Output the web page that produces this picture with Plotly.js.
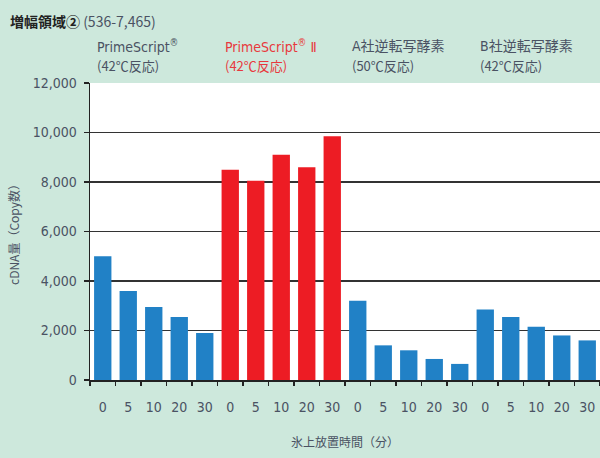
<!DOCTYPE html>
<html><head><meta charset="utf-8">
<script src="https://cdn.plot.ly/plotly-3.0.1.min.js"></script>
<style>html,body{margin:0;padding:0;background:#cde8dc;}#c{width:600px;height:458px;}</style>
</head><body><div id="c"></div>
<script>
const timeLabels = ["0","5","10","20","30","0","5","10","20","30","0","5","10","20","30","0","5","10","20","30"];
const primeScript = [5000, 3600, 2950, 2550, 1900];
const primeScript2 = [8500, 8050, 9100, 8600, 9850];
const companyA = [3200, 1400, 1200, 850, 650];
const companyB = [2850, 2550, 2150, 1800, 1600];
const groupTitles = ["PrimeScript<sup>®</sup>", "PrimeScript<sup>®</sup> Ⅱ", "A社逆転写酵素", "B社逆転写酵素"];
const groupSubs = ["(42℃反応)", "(42℃反応)", "(50℃反応)", "(42℃反応)"];
const groupColors = ["#2181c6", "#ed1c24", "#2181c6", "#2181c6"];
const textColors = ["#4a5263", "#e8383d", "#4a5263", "#4a5263"];

const series = [primeScript, primeScript2, companyA, companyB];
const font = "Liberation Sans Narrow, Arial Narrow, DejaVu Sans Condensed, Liberation Sans, sans-serif";
const jfont = "Noto Sans CJK JP, sans-serif";
const traces = [];
const annotations = [];
series.forEach((vals, g) => {
  const xs = vals.map((v, i) => g * 5 + i);
  traces.push({type: "bar", x: xs, y: vals, marker: {color: groupColors[g], line: {width: 0}}, width: 0.68, hoverinfo: "y", showlegend: false});
  annotations.push({xref: "x", yref: "paper", x: g * 5 - 0.3, y: 1.125, xanchor: "left", yanchor: "middle", showarrow: false,
    text: groupTitles[g], font: {family: font + "," + jfont, size: 14, color: textColors[g]}});
  annotations.push({xref: "x", yref: "paper", x: g * 5 - 0.3, y: 1.058, xanchor: "left", yanchor: "middle", showarrow: false,
    text: groupSubs[g], font: {family: jfont, size: 13, color: textColors[g]}});
});
const boundaries = timeLabels.map((_, i) => i - 0.5).concat([timeLabels.length - 0.5]);
traces.push({type: "scatter", x: [0], y: [0], xaxis: "x2", mode: "markers", marker: {opacity: 0}, hoverinfo: "skip", showlegend: false});

annotations.push({xref: "paper", yref: "paper", x: -0.16, y: 1.21, xanchor: "left", yanchor: "middle", showarrow: false,
  text: "<b>増幅領域②</b> <span style='color:#4a5263'>(536-7,465)</span>", font: {family: jfont, size: 14, color: "#222"}});

const layout = {
  width: 600, height: 458,
  paper_bgcolor: "#cde8dc", plot_bgcolor: "#ffffff",
  margin: {l: 90, r: 0, t: 83, b: 78},
  bargap: 0.3,
  xaxis: {range: [-0.5, 19.5], tickmode: "array", tickvals: timeLabels.map((_, i) => i), ticktext: timeLabels,
    ticks: "", showgrid: false, zeroline: false, showline: true, linecolor: "#222", linewidth: 1.5,
    tickfont: {family: font, size: 14, color: "#4a5263"}, ticklabelstandoff: 14,
    title: {text: "氷上放置時間（分）", font: {family: jfont, size: 12, color: "#4a5263"}, standoff: 24}},
  xaxis2: {overlaying: "x", matches: "x", range: [-0.5, 19.5], side: "bottom", tickmode: "array", tickvals: boundaries,
    showticklabels: false, ticks: "outside", ticklen: 5, tickwidth: 1.5, tickcolor: "#222", showgrid: false, zeroline: false, showline: false},
  yaxis: {range: [0, 12000], tickmode: "array", tickvals: [0, 2000, 4000, 6000, 8000, 10000, 12000], tickformat: ",d",
    ticks: "outside", ticklen: 5, tickwidth: 1.5, tickcolor: "#222", ticklabelstandoff: 4,
    showgrid: true, gridcolor: "#333", gridwidth: 1.5, zeroline: false, showline: true, linecolor: "#222", linewidth: 1.5,
    tickfont: {family: font, size: 14, color: "#4a5263"},
    title: {text: "cDNA量（Copy数）", font: {family: jfont, size: 12, color: "#4a5263"}, standoff: 10}},
  annotations: annotations
};
Plotly.newPlot("c", traces, layout, {displayModeBar: false, staticPlot: true});
</script></body></html>
